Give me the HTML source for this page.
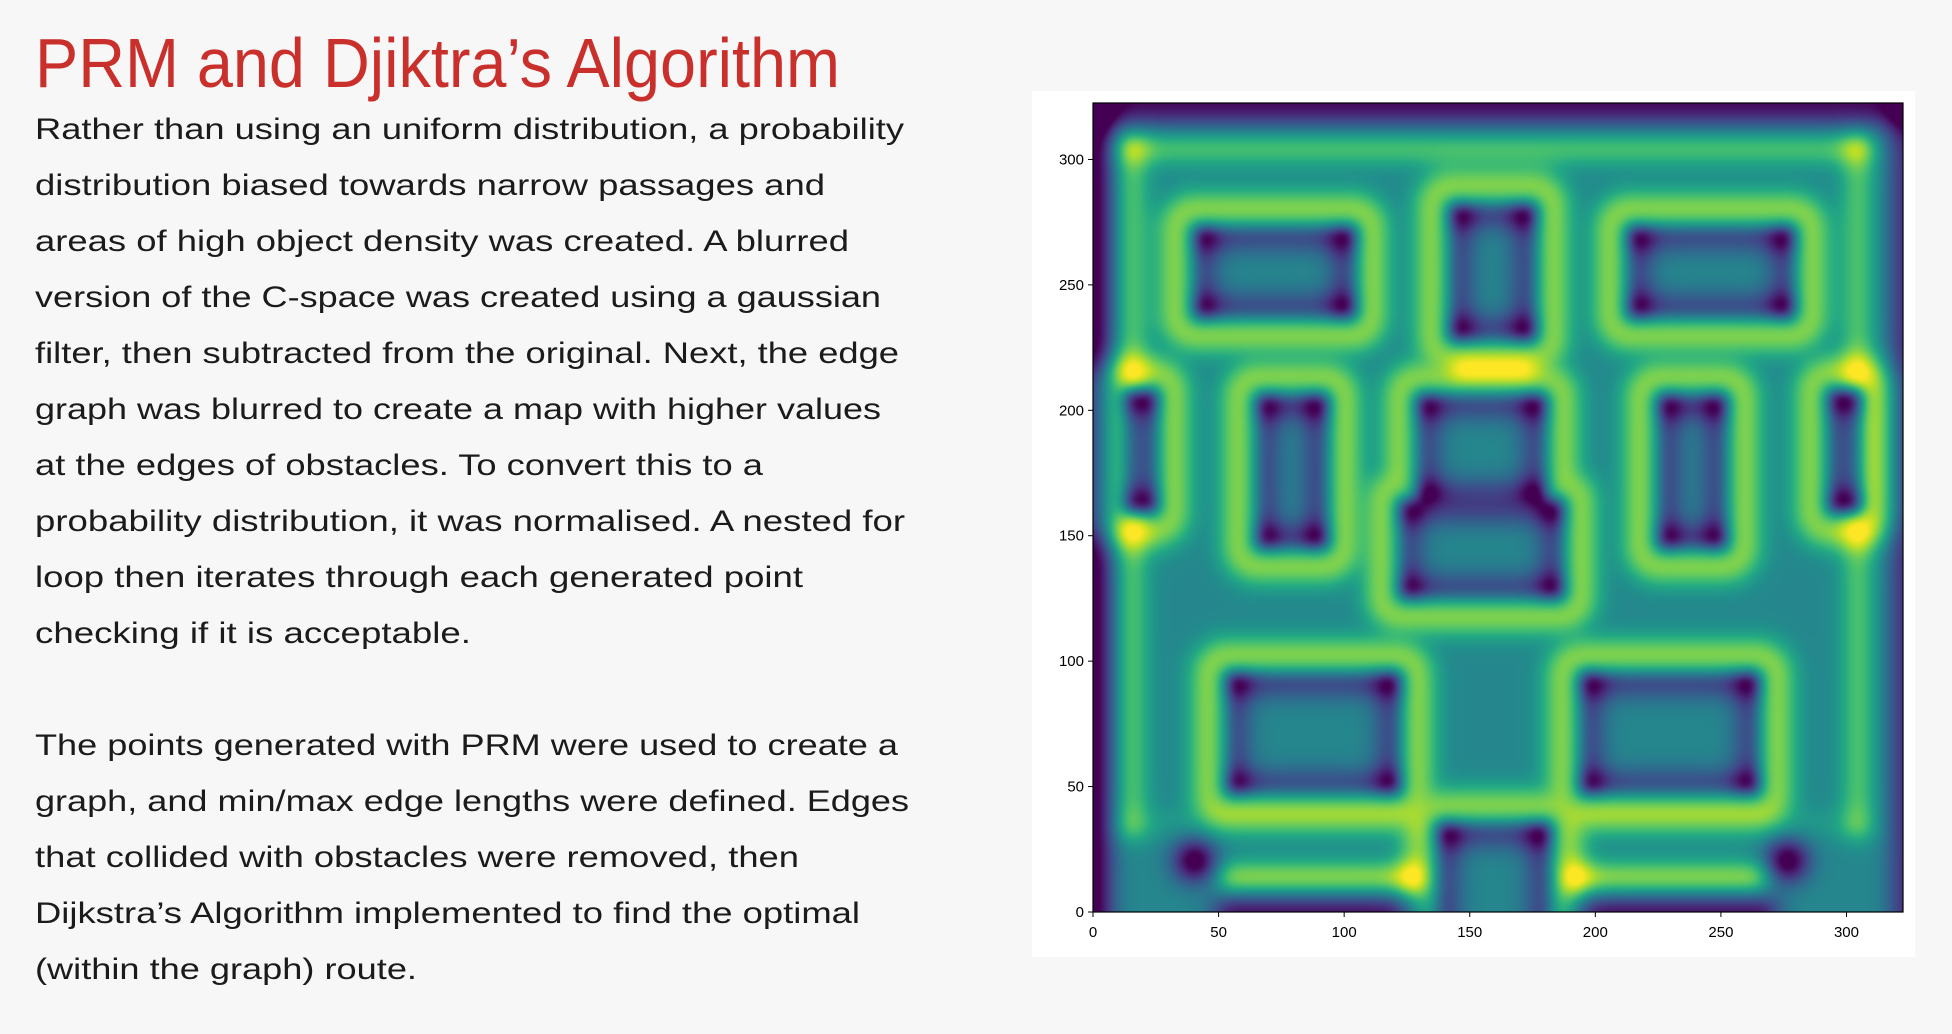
<!DOCTYPE html>
<html><head><meta charset="utf-8"><style>
html,body{margin:0;padding:0;background:#f7f7f7;width:1952px;height:1034px;overflow:hidden}
svg text{font-family:"Liberation Sans",sans-serif}
#panel{position:absolute;left:1032px;top:91px;width:883px;height:866px;background:#fff}
#heat{position:absolute;left:1093px;top:103px;width:810px;height:809px;image-rendering:auto}
</style></head><body>
<svg width="1952" height="1034" style="position:absolute;left:0;top:0">
<text x="35" y="87" font-size="70" fill="#c9302c" textLength="805" lengthAdjust="spacingAndGlyphs">PRM and Djiktra’s Algorithm</text>
<g font-size="30" fill="#1b1b1b">
<text x="35" y="139" textLength="869" lengthAdjust="spacingAndGlyphs">Rather than using an uniform distribution, a probability</text>
<text x="35" y="195" textLength="790" lengthAdjust="spacingAndGlyphs">distribution biased towards narrow passages and</text>
<text x="35" y="251" textLength="814" lengthAdjust="spacingAndGlyphs">areas of high object density was created. A blurred</text>
<text x="35" y="307" textLength="846" lengthAdjust="spacingAndGlyphs">version of the C-space was created using a gaussian</text>
<text x="35" y="363" textLength="864" lengthAdjust="spacingAndGlyphs">filter, then subtracted from the original. Next, the edge</text>
<text x="35" y="419" textLength="846" lengthAdjust="spacingAndGlyphs">graph was blurred to create a map with higher values</text>
<text x="35" y="475" textLength="728" lengthAdjust="spacingAndGlyphs">at the edges of obstacles. To convert this to a</text>
<text x="35" y="531" textLength="870" lengthAdjust="spacingAndGlyphs">probability distribution, it was normalised. A nested for</text>
<text x="35" y="587" textLength="768" lengthAdjust="spacingAndGlyphs">loop then iterates through each generated point</text>
<text x="35" y="643" textLength="436" lengthAdjust="spacingAndGlyphs">checking if it is acceptable.</text>
<text x="35" y="755" textLength="863" lengthAdjust="spacingAndGlyphs">The points generated with PRM were used to create a</text>
<text x="35" y="811" textLength="874" lengthAdjust="spacingAndGlyphs">graph, and min/max edge lengths were defined. Edges</text>
<text x="35" y="867" textLength="764" lengthAdjust="spacingAndGlyphs">that collided with obstacles were removed, then</text>
<text x="35" y="923" textLength="825" lengthAdjust="spacingAndGlyphs">Dijkstra’s Algorithm implemented to find the optimal</text>
<text x="35" y="979" textLength="382" lengthAdjust="spacingAndGlyphs">(within the graph) route.</text>
</g>
</svg>
<div id="panel"></div>
<canvas id="heat" width="323" height="323"></canvas>
<svg id="axes" width="1952" height="1034" style="position:absolute;left:0;top:0"></svg>
<script>
// obstacle rectangles (data units)
const obsX0=[40,142,213,12,65,129,122,225,293,53,194,137];
const obsX1=[103,175,278,24,92,179,186,251,305,121,264,181];
const obsY0=[238,229,238,160,146,164,126,146,160,48,48,-40];
const obsY1=[273,282,273,208,206,206,164,206,208,95,95,35];
// dark segments (data units)
const dX0=[40,276,55,195];
const dY0=[21,21,0,0];
const dX1=[40,276,125,265];
const dY1=[21,21,0,0];
const dAmp=[0.65,0.65,0.45,0.45];
// bright ridge segments (data units)
const rX0=[15,15,304,15,195,55,193,146];
const rY0=[35,305,35,36,36,14,14,217];
const rX1=[15,304,304,125,304,125,263,172];
const rY1=[305,305,305,36,36,14,14,217];
const rAmp=[0.3,0.3,0.3,0.08,0.08,0.45,0.45,0.3];
const xTicks=[0,50,100,150,200,250,300];
const yTicks=[0,50,100,150,200,250,300];
const XMAX=322.5, YMAX=322.5;
const AX={l:1093,r:1903,t:103,b:912};
function sx(v){return AX.l+(v/XMAX)*(AX.r-AX.l);}
function sy(v){return AX.b-(v/YMAX)*(AX.b-AX.t);}
const vir=[[68,1,84],[72,36,117],[65,68,135],[53,95,141],[42,120,142],[33,145,140],[34,168,132],[68,191,112],[122,209,81],[189,223,38],[253,231,37]];
function cmap(v){v=Math.max(0,Math.min(1,v))*10;const i=Math.min(9,Math.floor(v)),f=v-i;const a=vir[i],b=vir[i+1];return [a[0]+(b[0]-a[0])*f,a[1]+(b[1]-a[1])*f,a[2]+(b[2]-a[2])*f];}
function g(x,w){return Math.exp(-(x*x)/(w*w));}
function segDist(x,y,ax,ay,bx,by){const ddx=bx-ax,ddy=by-ay,L=ddx*ddx+ddy*ddy;
 let t=L?((x-ax)*ddx+(y-ay)*ddy)/L:0;t=Math.max(0,Math.min(1,t));
 return Math.hypot(x-ax-t*ddx,y-ay-t*ddy);}
const cv=document.getElementById('heat');const ctx=cv.getContext('2d');
const W=cv.width,H=cv.height;
let F=new Float32Array(W*H);
for(let py=0;py<H;py++){for(let px=0;px<W;px++){
 const x=px*XMAX/W, y=YMAX-py*YMAX/H;
 let v=0.46, dmin=1e9, dark=0;
 for(let k=0;k<obsX0.length;k++){
  const x0=obsX0[k],x1=obsX1[k],y0=obsY0[k],y1=obsY1[k];
  const dx=Math.max(x0-x,0,x-x1), dy=Math.max(y0-y,0,y-y1);
  let d;
  if(dx===0&&dy===0){const ix=Math.min(x-x0,x1-x),iy=Math.min(y-y0,y1-y);d=-Math.min(ix,iy);
   dark=Math.max(dark,0.3*(g(ix-2,7)+g(iy-2,7))+0.15*g(ix-2,6)*g(iy-2,6));}
  else d=Math.hypot(dx,dy);
  if(d<dmin)dmin=d;
 }
 if(dmin>0) v+=0.4*g(dmin-8,7);
 v-=dark;
 for(let k=0;k<dX0.length;k++) v-=dAmp[k]*g(segDist(x,y,dX0[k],dY0[k],dX1[k],dY1[k]),8);
 let ridge=0;
 for(let k=0;k<rX0.length;k++) ridge+=rAmp[k]*g(segDist(x,y,rX0[k],rY0[k],rX1[k],rY1[k]),k===7?4:6);
 if(dmin>0)v+=ridge; else v+=ridge*0.3;
 v-=0.55*g(x,7)+0.45*g(YMAX-y,9)+0.35*g(XMAX-x,6);
 F[py*W+px]=v;
}}
// gaussian blur (separable)
const R=8,sig=3,ker=[];let ks=0;
for(let i=-R;i<=R;i++){const w=Math.exp(-i*i/(2*sig*sig));ker.push(w);ks+=w;}
function blur(src,horiz){const out=new Float32Array(W*H);
 for(let y=0;y<H;y++)for(let x=0;x<W;x++){let s=0;
  for(let i=-R;i<=R;i++){let xx=horiz?x+i:x,yy=horiz?y:y+i;
   xx=Math.max(0,Math.min(W-1,xx));yy=Math.max(0,Math.min(H-1,yy));
   s+=ker[i+R]*src[yy*W+xx];}
  out[y*W+x]=s/ks;}
 return out;}
F=blur(blur(F,true),false);
const img=ctx.createImageData(W,H);
for(let i=0;i<W*H;i++){const c=cmap(F[i]);img.data[i*4]=c[0];img.data[i*4+1]=c[1];img.data[i*4+2]=c[2];img.data[i*4+3]=255;}
ctx.putImageData(img,0,0);
const svg=document.getElementById('axes');const NS='http://www.w3.org/2000/svg';
function mk(t,a){const e=document.createElementNS(NS,t);for(const k in a)e.setAttribute(k,a[k]);svg.appendChild(e);return e;}
const fr=mk('rect',{x:AX.l,y:AX.t,width:AX.r-AX.l,height:AX.b-AX.t,fill:'none',stroke:'#000','stroke-width':1.2});


xTicks.forEach(v=>{
 const X=sx(v);
 const tk=mk('line',{x1:X,x2:X,y1:AX.b,y2:AX.b+5,stroke:'#000','stroke-width':1});
 
 
 const t=mk('text',{x:X,y:AX.b+25,'font-size':15,'text-anchor':'middle',fill:'#000'});t.textContent=v;
 
 
});
yTicks.forEach(v=>{
 const Y=sy(v);
 const tk=mk('line',{x1:AX.l-5,x2:AX.l,y1:Y,y2:Y,stroke:'#000','stroke-width':1});
 
 
 const t=mk('text',{x:AX.l-9,y:Y+5,'font-size':15,'text-anchor':'end',fill:'#000'});t.textContent=v;
 
 
});
</script>
</body></html>
